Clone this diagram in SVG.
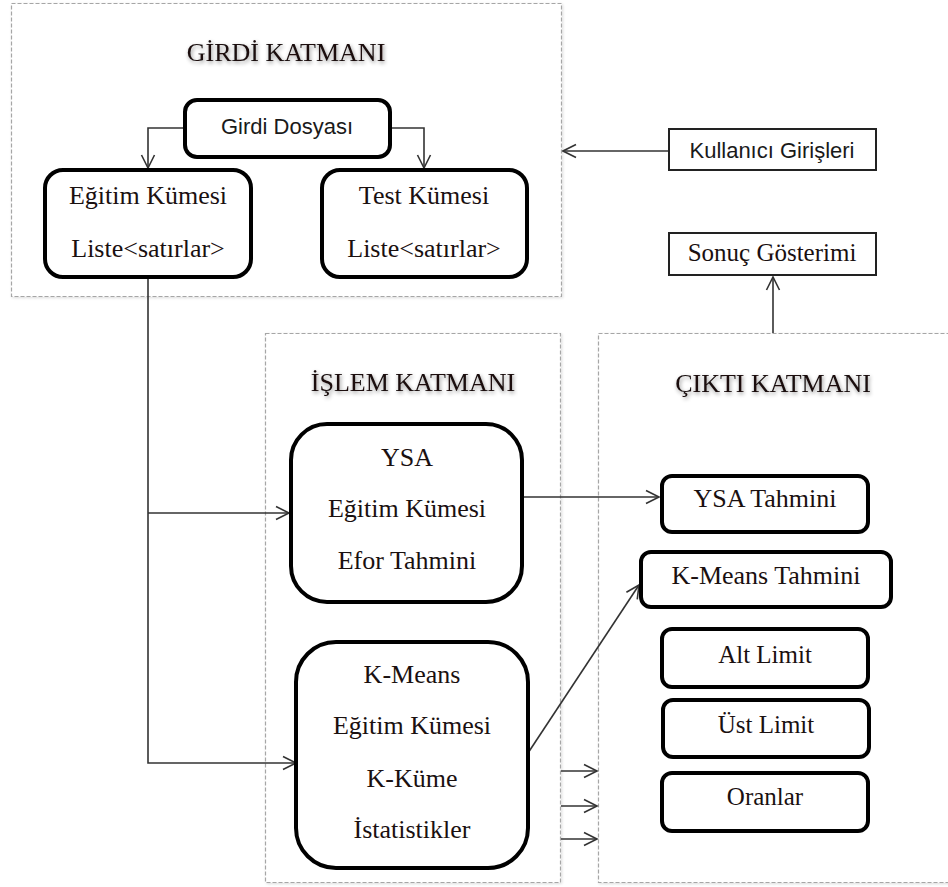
<svg xmlns="http://www.w3.org/2000/svg" width="948" height="887" viewBox="0 0 948 887">
  <defs>
    <style>
      .layer { fill: #ffffff; stroke: #a6a6a6; stroke-width: 1.2; stroke-dasharray: 4 2; }
      .node { fill: #ffffff; stroke: #000000; stroke-width: 4; }
      .plain { fill: #ffffff; stroke: #222222; stroke-width: 2; }
      .serif { font-family: "Liberation Serif", "Times New Roman", serif; font-size: 26px; fill: #1a1010; text-anchor: middle; }
      .sans { font-family: "Liberation Sans", Arial, sans-serif; font-size: 22px; fill: #1a1a1a; text-anchor: middle; }
      .title { font-family: "Liberation Serif", "Times New Roman", serif; font-size: 26px; fill: #1a1010; text-anchor: middle; filter: url(#glow); }
      .conn { fill: none; stroke: #333333; stroke-width: 1.6; }
    </style>
    <!-- open chevron arrowhead shared by all connectors -->
    <marker id="arrow" viewBox="0 0 16 16" refX="14.5" refY="8" markerWidth="16" markerHeight="16" markerUnits="userSpaceOnUse" orient="auto">
      <path d="M1.5,1.5 L14.5,8 L1.5,14.5" fill="none" stroke="#333333" stroke-width="1.6"/>
    </marker>
    <filter id="glow" x="-10%" y="-40%" width="120%" height="180%">
      <feGaussianBlur in="SourceAlpha" stdDeviation="2"/>
      <feOffset dx="1" dy="2" result="b"/>
      <feComponentTransfer><feFuncA type="linear" slope="0.45"/></feComponentTransfer>
      <feMerge><feMergeNode/><feMergeNode in="SourceGraphic"/></feMerge>
    </filter>
    <filter id="soft" x="-5%" y="-5%" width="110%" height="110%">
      <feGaussianBlur in="SourceAlpha" stdDeviation="1.5"/>
      <feOffset dx="1" dy="1"/>
      <feComponentTransfer><feFuncA type="linear" slope="0.15"/></feComponentTransfer>
      <feMerge><feMergeNode/><feMergeNode in="SourceGraphic"/></feMerge>
    </filter>
  </defs>

  <rect width="948" height="887" fill="#ffffff"/>

  <!-- Layer frames -->
  <g id="girdi-katmani">
    <rect class="layer" x="11.5" y="3.5" width="550" height="293" filter="url(#soft)"/>
    <text class="title" x="286" y="61">GİRDİ KATMANI</text>
  </g>
  <g id="islem-katmani">
    <rect class="layer" x="265.5" y="333.5" width="295" height="549" filter="url(#soft)"/>
    <text class="title" x="413" y="391">İŞLEM KATMANI</text>
  </g>
  <g id="cikti-katmani">
    <rect class="layer" x="598.5" y="333.5" width="360" height="549" filter="url(#soft)"/>
    <text class="title" x="773" y="392">ÇIKTI KATMANI</text>
  </g>

  <!-- Connectors -->
  <g id="connectors">
    <path class="conn" d="M185,128 H148 V168" marker-end="url(#arrow)"/>
    <path class="conn" d="M390,128 H424 V168" marker-end="url(#arrow)"/>
    <path class="conn" d="M148,277 V763 H296" marker-end="url(#arrow)"/>
    <path class="conn" d="M148,513 H289" marker-end="url(#arrow)"/>
    <path class="conn" d="M669,151 H563" marker-end="url(#arrow)"/>
    <path class="conn" d="M773,333 V277" marker-end="url(#arrow)"/>
    <path class="conn" d="M522,497 H659" marker-end="url(#arrow)"/>
    <path class="conn" d="M528,753 L639,585" marker-end="url(#arrow)"/>
    <path class="conn" d="M561,771 H597" marker-end="url(#arrow)"/>
    <path class="conn" d="M561,806 H597" marker-end="url(#arrow)"/>
    <path class="conn" d="M561,839 H597" marker-end="url(#arrow)"/>
  </g>

  <!-- Input layer nodes -->
  <g id="girdi-dosyasi">
    <rect class="node" x="185" y="100" width="205" height="57" rx="12"/>
    <text class="sans" x="287" y="134">Girdi Dosyası</text>
  </g>
  <g id="egitim-kumesi">
    <rect class="node" x="45" y="170" width="206" height="107" rx="18"/>
    <text class="serif" x="148" y="204">Eğitim Kümesi</text>
    <text class="serif" x="148" y="257">Liste&lt;satırlar&gt;</text>
  </g>
  <g id="test-kumesi">
    <rect class="node" x="322" y="170" width="205" height="107" rx="18"/>
    <text class="serif" x="424" y="204">Test Kümesi</text>
    <text class="serif" x="424" y="257">Liste&lt;satırlar&gt;</text>
  </g>

  <!-- External boxes -->
  <g id="kullanici-girisleri">
    <rect class="plain" x="669" y="129" width="207" height="41"/>
    <text class="sans" x="772" y="158">Kullanıcı Girişleri</text>
  </g>
  <g id="sonuc-gosterimi">
    <rect class="plain" x="669" y="233" width="207" height="42"/>
    <text class="serif" x="772" y="261" style="font-size:25px">Sonuç Gösterimi</text>
  </g>

  <!-- Processing layer nodes -->
  <g id="ysa">
    <rect class="node" x="291" y="424" width="231" height="178" rx="36"/>
    <text class="serif" x="407" y="466">YSA</text>
    <text class="serif" x="407" y="517">Eğitim Kümesi</text>
    <text class="serif" x="407" y="569">Efor Tahmini</text>
  </g>
  <g id="k-means">
    <rect class="node" x="296" y="642" width="232" height="226" rx="40"/>
    <text class="serif" x="412" y="683">K-Means</text>
    <text class="serif" x="412" y="734">Eğitim Kümesi</text>
    <text class="serif" x="412" y="787">K-Küme</text>
    <text class="serif" x="412" y="838">İstatistikler</text>
  </g>

  <!-- Output layer nodes -->
  <g id="ysa-tahmini">
    <rect class="node" x="662" y="476" width="206" height="56" rx="10"/>
    <text class="serif" x="765" y="507">YSA Tahmini</text>
  </g>
  <g id="k-means-tahmini">
    <rect class="node" x="641" y="552" width="250" height="55" rx="10"/>
    <text class="serif" x="766" y="584">K-Means Tahmini</text>
  </g>
  <g id="alt-limit">
    <rect class="node" x="662" y="629" width="206" height="58" rx="10"/>
    <text class="serif" x="765" y="663" style="font-size:25px">Alt Limit</text>
  </g>
  <g id="ust-limit">
    <rect class="node" x="663" y="700" width="206" height="57" rx="10"/>
    <text class="serif" x="766" y="733" style="font-size:25px">Üst Limit</text>
  </g>
  <g id="oranlar">
    <rect class="node" x="662" y="773" width="206" height="58" rx="10"/>
    <text class="serif" x="765" y="805" style="font-size:25px">Oranlar</text>
  </g>
</svg>
